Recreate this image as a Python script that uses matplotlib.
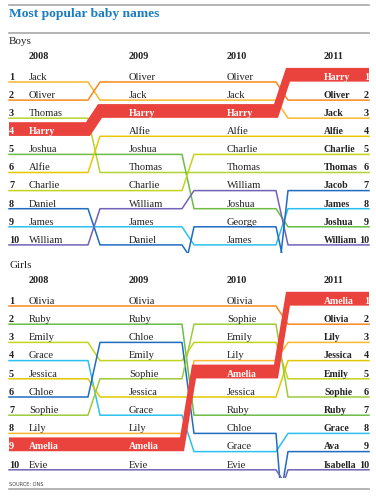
import matplotlib
matplotlib.use('Agg')
from matplotlib import pyplot as plt
from matplotlib.patches import Polygon

years = ['2008', '2009', '2010', '2011']

boys_2008 = ['Jack', 'Oliver', 'Thomas', 'Harry', 'Joshua', 'Alfie', 'Charlie', 'Daniel', 'James', 'William']
boys_2009 = ['Oliver', 'Jack', 'Harry', 'Alfie', 'Joshua', 'Thomas', 'Charlie', 'William', 'James', 'Daniel']
boys_2010 = ['Oliver', 'Jack', 'Harry', 'Alfie', 'Charlie', 'Thomas', 'William', 'Joshua', 'George', 'James']
boys_2011 = ['Harry', 'Oliver', 'Jack', 'Alfie', 'Charlie', 'Thomas', 'Jacob', 'James', 'Joshua', 'William']

girls_2008 = ['Olivia', 'Ruby', 'Emily', 'Grace', 'Jessica', 'Chloe', 'Sophie', 'Lily', 'Amelia', 'Evie']
girls_2009 = ['Olivia', 'Ruby', 'Chloe', 'Emily', 'Sophie', 'Jessica', 'Grace', 'Lily', 'Amelia', 'Evie']
girls_2010 = ['Olivia', 'Sophie', 'Emily', 'Lily', 'Amelia', 'Jessica', 'Ruby', 'Chloe', 'Grace', 'Evie']
girls_2011 = ['Amelia', 'Olivia', 'Lily', 'Jessica', 'Emily', 'Sophie', 'Ruby', 'Grace', 'Ava', 'Isabella']

# rank used in years when a name is outside the top ten (guessed from the line slopes)
boys_outside = {'Daniel': 11, 'George': 12, 'Jacob': 13}
girls_outside = {'Chloe': 16, 'Evie': 11, 'Ava': 13, 'Isabella': 12}

boys_highlight = 'Harry'
girls_highlight = 'Amelia'

name_colors = {
    'Jack': '#fcb72c', 'Oliver': '#f6891f', 'Thomas': '#b4d334', 'Harry': '#ea433d',
    'Joshua': '#6bbd45', 'Alfie': '#e7c800', 'Charlie': '#c3d41e', 'Daniel': '#1f6cc1',
    'James': '#2bc0ef', 'William': '#7262b8', 'George': '#1f6cc1', 'Jacob': '#1f6cc1',
    'Olivia': '#f6891f', 'Ruby': '#6bbd45', 'Emily': '#c3d41e', 'Grace': '#2bc0ef',
    'Jessica': '#e2c800', 'Chloe': '#1f6cc1', 'Sophie': '#9dcb3b', 'Lily': '#fcb72c',
    'Amelia': '#ea433d', 'Evie': '#7262b8', 'Ava': '#1f6cc1', 'Isabella': '#7262b8',
}

W, H = 376, 500
col_start = [9, 100, 194, 288]
col_end = [88, 182, 276, 369]
name_x = [29, 129, 227, 324]
SERIF = 'Liberation Serif'
TEXT = '#222222'


def rank_of(name, names, outside):
    if name in names:
        return names.index(name) + 1
    return outside[name]


def draw_section(fig, rank1_px, pitch, label, per_year, outside, highlight):
    # axes placed so that the ranks land on the reference's rows
    y_top, y_bot = -0.8, 10.45
    px_top = rank1_px + (y_top - 1) * pitch
    px_bot = rank1_px + (y_bot - 1) * pitch
    ax = fig.add_axes([0, 1 - px_bot / H, 1, (px_bot - px_top) / H])
    ax.set_xlim(0, W)
    ax.set_ylim(y_bot, y_top)
    ax.axis('off')

    all_names = []
    for names in per_year:
        for n in names:
            if n not in all_names:
                all_names.append(n)

    for name in all_names:
        if name == highlight:
            continue
        xs, ys = [], []
        for i in range(len(years)):
            r = rank_of(name, per_year[i], outside)
            xs += [col_start[i], col_end[i]]
            ys += [r, r]
        ax.plot(xs, ys, color=name_colors[name], lw=1.1, zorder=2)

    # thick band for the highlighted name, filling its row
    s = 2
    top, bot = [], []
    for i in range(len(years)):
        r = rank_of(highlight, per_year[i], outside)
        a = 0 if i == 0 else s
        b = 0 if i == len(years) - 1 else s
        top += [(col_start[i] - a, r - 0.78), (col_end[i] - b, r - 0.78)]
        bot += [(col_start[i] + a, r - 0.02), (col_end[i] + b, r - 0.02)]
    ax.add_patch(Polygon(top + bot[::-1], closed=True, facecolor=name_colors[highlight],
                         edgecolor='none', zorder=3))

    ax.text(9, -1.1, label, fontsize=8, family=SERIF, color=TEXT, va='baseline')
    for i, yr in enumerate(years):
        ax.text(name_x[i], -0.28, yr, fontsize=7.3, family=SERIF, fontweight='bold',
                color=TEXT, va='baseline')
        for k, name in enumerate(per_year[i]):
            r = k + 1
            hl = name == highlight
            c = 'white' if hl else TEXT
            w = 'bold' if (hl or i == 3) else 'normal'
            ax.text(name_x[i], r - 0.12, name, fontsize=7.6 if w == 'normal' else 7.0,
                    family=SERIF, fontweight=w, color=c, va='baseline', zorder=4)
            if i == 0:
                ax.text(9, r - 0.12, str(r), fontsize=7.3, family=SERIF, fontweight='bold',
                        color=c, va='baseline', zorder=4)
            if i == 3:
                ax.text(369, r - 0.12, str(r), fontsize=7.3, family=SERIF, fontweight='bold',
                        color=c, va='baseline', ha='right', zorder=4)
    return ax


fig = plt.figure(figsize=(W / 100, H / 100), dpi=100)
fig.patch.set_facecolor('white')

bg = fig.add_axes([0, 0, 1, 1])
bg.set_xlim(0, W)
bg.set_ylim(H, 0)
bg.axis('off')
for y in [5, 33, 489]:
    bg.plot([9, 369], [y, y], color='#a8a8a8', lw=1.2)
bg.text(9, 17.5, 'Most popular baby names', fontsize=9.7, family=SERIF, fontweight='bold',
        color='#1a7cc1', va='baseline')
bg.text(9, 485.5, 'SOURCE: ONS', fontsize=3.6, family='DejaVu Sans', color='#444444',
        va='baseline')

draw_section(fig, 82, 18.1, 'Boys', [boys_2008, boys_2009, boys_2010, boys_2011],
             boys_outside, boys_highlight)
draw_section(fig, 306, 18.2, 'Girls', [girls_2008, girls_2009, girls_2010, girls_2011],
             girls_outside, girls_highlight)

fig.savefig('out.png', dpi=100)
